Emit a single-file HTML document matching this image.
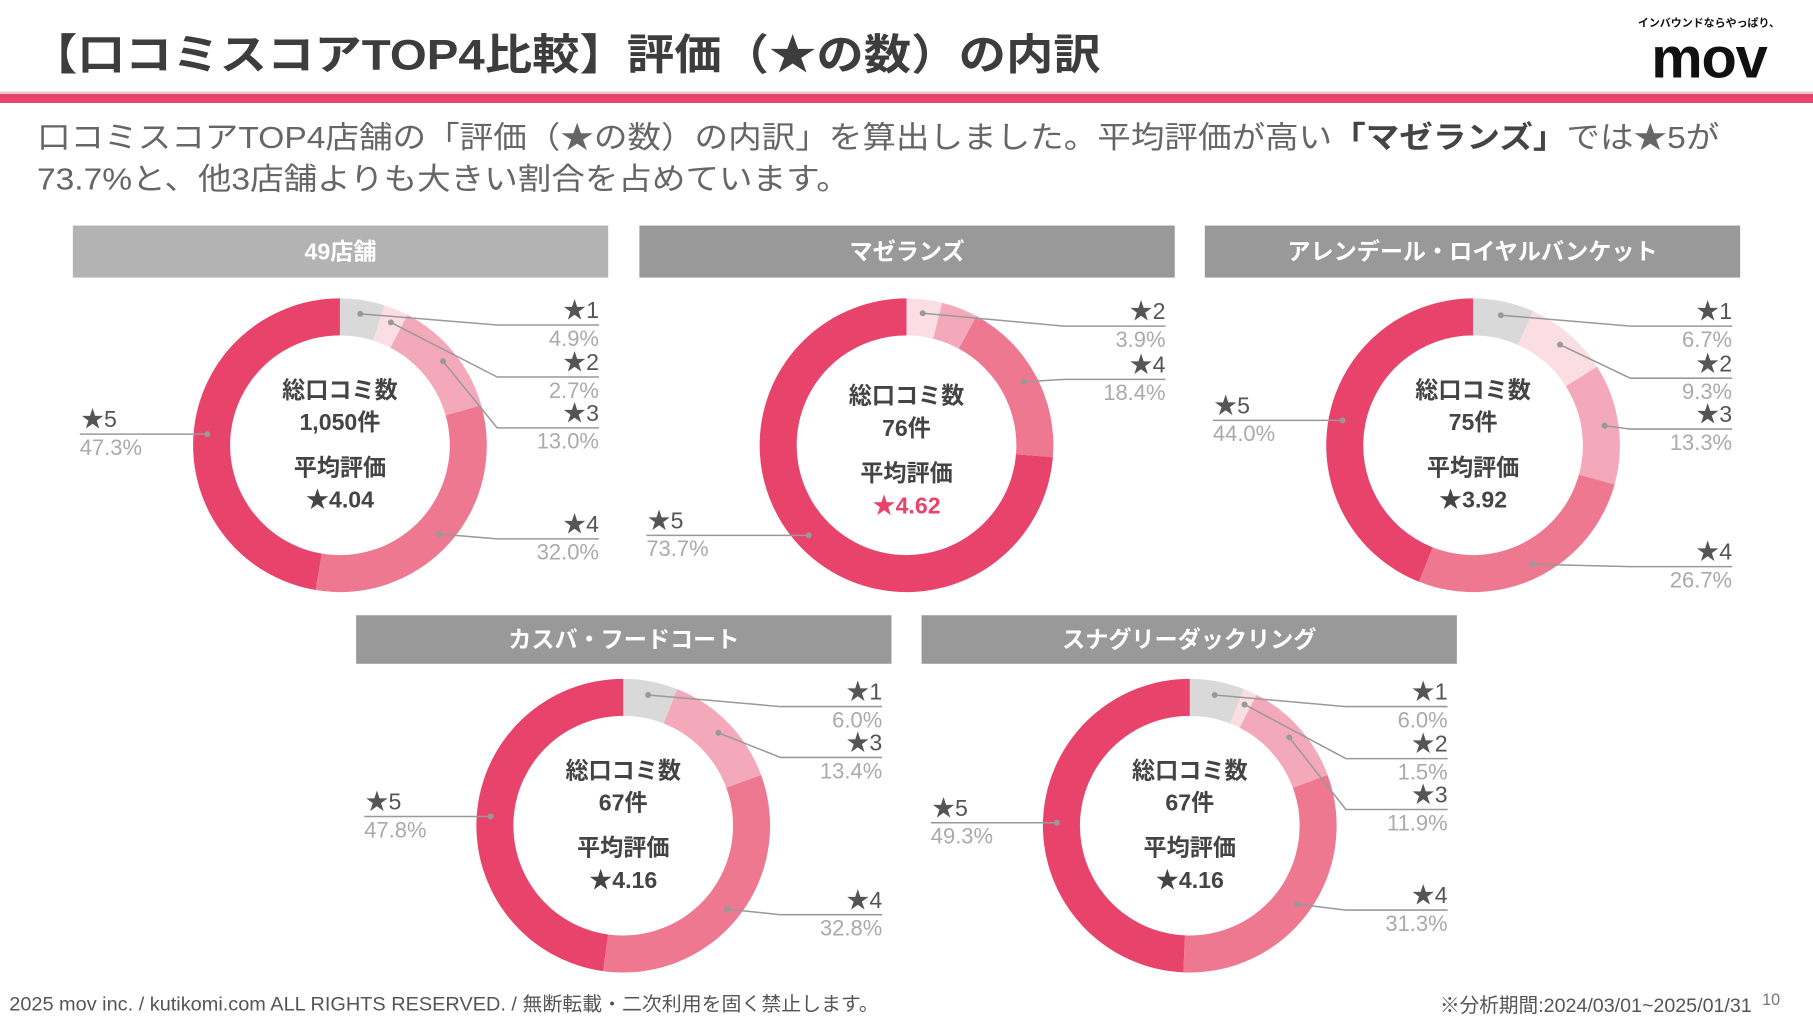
<!DOCTYPE html>
<html><head><meta charset="utf-8"><style>
html,body{margin:0;padding:0;background:#fff;width:1813px;height:1020px;overflow:hidden}
svg{display:block}
text{font-family:"Liberation Sans","Noto Sans CJK JP",sans-serif}
</style></head><body>
<svg id="s" width="1813" height="1020" viewBox="0 0 1568 882" xmlns="http://www.w3.org/2000/svg">
<text x="26" y="60" font-size="37" font-weight="bold" fill="#3d3d3d" textLength="926" lengthAdjust="spacingAndGlyphs">【口コミスコアTOP4比較】評価（★の数）の内訳</text>
<text x="1478" y="23" font-size="9.5" font-weight="bold" fill="#111" text-anchor="middle">インバウンドならやっぱり、</text>
<text x="1478" y="67" font-size="50" font-weight="bold" fill="#111" text-anchor="middle" letter-spacing="-1">mov</text>
<rect x="0" y="79" width="1568" height="1.5" fill="#f6c3cf"/>
<rect x="0" y="81" width="1568" height="8" fill="#e8436a"/>
<text x="32" y="128" font-size="26.5" fill="#666" textLength="1455" lengthAdjust="spacingAndGlyphs">口コミスコアTOP4店舗の「評価（★の数）の内訳」を算出しました。平均評価が高い<tspan font-weight="bold" fill="#444">「マゼランズ」</tspan>では★5が</text>
<text x="32" y="164" font-size="26.5" fill="#666" textLength="703" lengthAdjust="spacingAndGlyphs">73.7%と、他3店舗よりも大きい割合を占めています。</text>
<g id="charts"></g>
<text x="8" y="874" font-size="16.5" fill="#555" textLength="752" lengthAdjust="spacingAndGlyphs">2025 mov inc. / kutikomi.com ALL RIGHTS RESERVED. / 無断転載・二次利用を固く禁止します。</text>
<text x="1515" y="875" font-size="17" fill="#555" text-anchor="end">※分析期間:2024/03/01~2025/01/31</text>
<text x="1524" y="869" font-size="14" fill="#777">10</text>
</svg>
<script>
// data
const storeNames = ["49店舗","マゼランズ","アレンデール・ロイヤルバンケット","カスバ・フードコート","スナグリーダックリング"];
const reviewCounts = ["1,050件","76件","75件","67件","67件"];
const avgRatings = ["★4.04","★4.62","★3.92","★4.16","★4.16"];
const share49 = [4.9, 2.7, 13.0, 32.0, 47.3];
const shareMagellans = [0, 3.9, 4.0, 18.4, 73.7];
const shareArendelle = [6.7, 9.3, 13.3, 26.7, 44.0];
const shareKasbah = [6.0, 0, 13.4, 32.8, 47.8];
const shareSnuggly = [6.0, 1.5, 11.9, 31.3, 49.3];
const starLabels = ["★1","★2","★3","★4","★5"];
const labeledStars = [[0,1,2,3,4],[1,3,4],[0,1,2,3,4],[0,2,3,4],[0,1,2,3,4]];

// layout (not data)
const layout = [
 {cx:294,cy:385,hx:63,hy:195,hh:45,hc:"#b3b3b3",right:518,labelY:[281,326,370,466,null],left:69},
 {cx:784,cy:385,hx:553,hy:195,hh:45,hc:"#999",right:1008,labelY:[null,282,null,328,null],left:559},
 {cx:1274,cy:385,hx:1042,hy:195,hh:45,hc:"#999",right:1498,labelY:[282,327,371,490,null],left:1049},
 {cx:539,cy:714,hx:308,hy:532,hh:42,hc:"#999",right:763,labelY:[611,null,655,791,null],left:315},
 {cx:1029,cy:714,hx:797,hy:532,hh:42,hc:"#999",right:1252,labelY:[611,656,700,787,null],left:805}
];
const allShares=[share49,shareMagellans,shareArendelle,shareKasbah,shareSnuggly];
const colors=["#d9d9d9","#fbdde4","#f4a9bb","#ee7890","#e8436a"];
const R1=127,R0=95,NS="http://www.w3.org/2000/svg";
const root=document.getElementById("charts");
function mk(tag,attrs,parent){const e=document.createElementNS(NS,tag);for(const k in attrs)e.setAttribute(k,attrs[k]);(parent||root).appendChild(e);return e;}
function pt(cx,cy,r,frac){const a=frac*2*Math.PI;return [cx+r*Math.sin(a),cy-r*Math.cos(a)];}
function txt(x,y,s,size,fill,anchor,bold,parent){const t=mk("text",{x:x,y:y,"font-size":size,fill:fill,"text-anchor":anchor,"font-weight":bold?"bold":"normal"},parent);t.textContent=s;return t;}

allShares.forEach((vals,ci)=>{
  const L=layout[ci];
  const g=mk("g",{});
  
  
  const hdr=mk("rect",{x:L.hx,y:L.hy,width:463,height:L.hh,fill:L.hc},g);
  
  
  const ht=txt(L.hx+231.5,L.hy+L.hh/2+7,storeNames[ci],20,"#fff","middle",true,g);
  
  
  const total=vals.reduce((a,b)=>a+b,0);
  let acc=0;const mids=[];
  vals.forEach((v,i)=>{
    const f0=acc/total,f1=(acc+v)/total;acc+=v;mids.push((f0+f1)/2);
    if(v<=0)return;
    const [x0,y0]=pt(L.cx,L.cy,R1,f0),[x1,y1]=pt(L.cx,L.cy,R1,f1);
    const [x2,y2]=pt(L.cx,L.cy,R0,f1),[x3,y3]=pt(L.cx,L.cy,R0,f0);
    const lg=(f1-f0)>0.5?1:0;
    const p=mk("path",{d:`M${x0},${y0}A${R1},${R1} 0 ${lg} 1 ${x1},${y1}L${x2},${y2}A${R0},${R0} 0 ${lg} 0 ${x3},${y3}Z`,fill:colors[i]},g);
    
    
  });
  labeledStars[ci].forEach(i=>{
    const [dx,dy]=pt(L.cx,L.cy,(R0+R1)/2+4,mids[i]);
    const lab=mk("g",{},g);
    
    
    if(i===4){
      mk("line",{x1:L.left,y1:dy,x2:dx,y2:dy,stroke:"#999","stroke-width":1.3},lab);
      txt(L.left+1,dy-6,starLabels[i],20,"#555","start",false,lab);
      txt(L.left,dy+18,vals[i].toFixed(1)+"%",19,"#aaa","start",false,lab);
    }else{
      const ly=L.labelY[i];
      const ex=L.right-88;
      mk("polyline",{points:`${dx},${dy} ${ex},${ly} ${L.right},${ly}`,fill:"none",stroke:"#999","stroke-width":1.3},lab);
      txt(L.right,ly-6,starLabels[i],20,"#555","end",false,lab);
      txt(L.right,ly+18,vals[i].toFixed(1)+"%",19,"#aaa","end",false,lab);
    }
    mk("circle",{cx:dx,cy:dy,r:2.6,fill:"#999"},lab);
  });
  const off=ci===1?5:0;
  const c=mk("g",{},g);
  
  
  txt(L.cx,L.cy-41+off,"総口コミ数",20,"#444","middle",true,c);
  txt(L.cx,L.cy-13+off,reviewCounts[ci],20,"#444","middle",true,c);
  txt(L.cx,L.cy+26+off,"平均評価",20,"#444","middle",true,c);
  txt(L.cx,L.cy+54+off,avgRatings[ci],20,ci===1?"#e8436a":"#444","middle",true,c);
});
</script>
</body></html>
